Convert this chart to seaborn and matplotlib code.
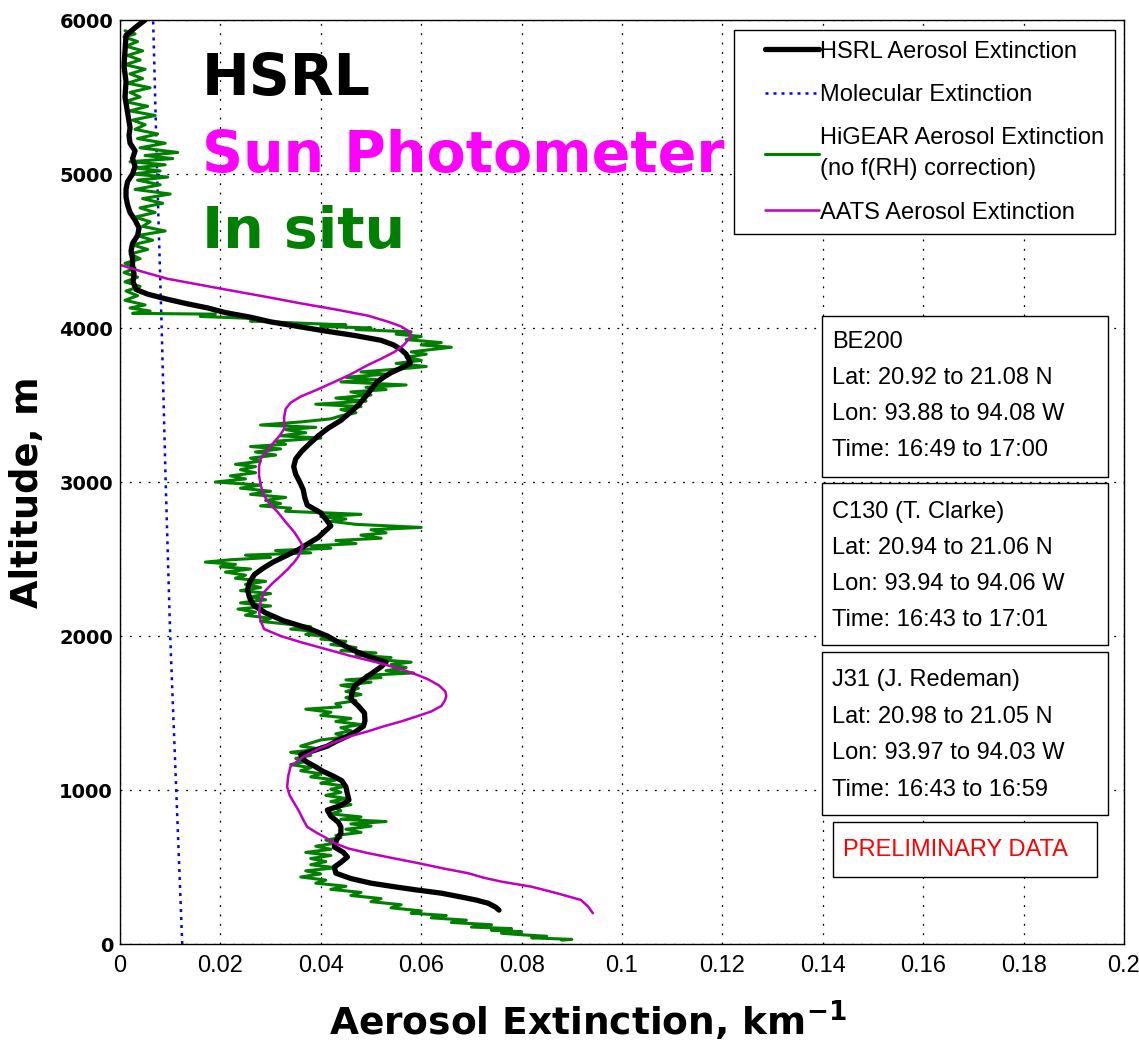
import matplotlib
matplotlib.use("Agg")
import matplotlib.pyplot as plt
import seaborn as sns
from matplotlib.patches import Rectangle
from matplotlib.legend_handler import HandlerLine2D

# ---------------- data ----------------
hsrl_alt = [6000, 5950, 5900, 5800, 5700, 5600, 5500, 5400, 5300, 5250, 5200, 5150, 5100, 5050, 5000,
            4950, 4900, 4850, 4800, 4750, 4700, 4650, 4600, 4550, 4500, 4450, 4400, 4350, 4300, 4250,
            4220, 4190, 4160, 4130, 4100, 4070, 4040, 4010, 3980, 3950, 3920, 3890, 3860, 3830, 3800,
            3770, 3740, 3710, 3680, 3650, 3600, 3550, 3500, 3450, 3400, 3350, 3300, 3250, 3200, 3150,
            3100, 3050, 3000, 2950, 2900, 2850, 2800, 2750, 2715, 2680, 2640, 2600, 2560, 2520, 2480,
            2440, 2400, 2350, 2300, 2250, 2200, 2150, 2100, 2050, 2000, 1950, 1900, 1860, 1830, 1800,
            1765, 1720, 1675, 1630, 1590, 1545, 1500, 1450, 1415, 1380, 1350, 1315, 1285, 1255, 1230,
            1200, 1180, 1150, 1120, 1090, 1060, 1020, 975, 935, 900, 870, 830, 790, 760, 720,
            680, 630, 595, 565, 530, 500, 460, 425, 395, 370, 350, 330, 305, 285, 265, 240, 220]
hsrl_ext = [0.0050, 0.0030, 0.0012, 0.0010, 0.0008, 0.0012, 0.0010, 0.0015, 0.0020, 0.0018, 0.0020, 0.0030, 0.0025, 0.0030, 0.0025,
            0.0015, 0.0012, 0.0012, 0.0015, 0.0020, 0.0030, 0.0038, 0.0035, 0.0025, 0.0022, 0.0025, 0.0025, 0.0028, 0.0026, 0.0032,
            0.0055, 0.0090, 0.0130, 0.0175, 0.0210, 0.0260, 0.0300, 0.0355, 0.0410, 0.0470, 0.0520, 0.0545, 0.0560, 0.0570, 0.0575,
            0.0578, 0.0560, 0.0540, 0.0525, 0.0512, 0.0500, 0.0488, 0.0475, 0.0458, 0.0440, 0.0415, 0.0395, 0.0378, 0.0362, 0.0350,
            0.0346, 0.0350, 0.0358, 0.0365, 0.0368, 0.0373, 0.0400, 0.0412, 0.0420, 0.0408, 0.0395, 0.0375, 0.0355, 0.0330, 0.0305,
            0.0285, 0.0268, 0.0258, 0.0254, 0.0258, 0.0266, 0.0290, 0.0325, 0.0375, 0.0413, 0.0440, 0.0470, 0.0500, 0.0530, 0.0520,
            0.0505, 0.0485, 0.0467, 0.0462, 0.0460, 0.0475, 0.0487, 0.0488, 0.0485, 0.0470, 0.0453, 0.0430, 0.0413, 0.0385, 0.0360,
            0.0365, 0.0373, 0.0390, 0.0405, 0.0425, 0.0442, 0.0450, 0.0453, 0.0456, 0.0440, 0.0413, 0.0420, 0.0435, 0.0440, 0.0440,
            0.0432, 0.0427, 0.0445, 0.0453, 0.0440, 0.0427, 0.0430, 0.0460, 0.0500, 0.0550, 0.0593, 0.0640, 0.0680, 0.0710, 0.0733, 0.0748, 0.0755]

mol_alt = [0, 1000, 2000, 3000, 4000, 5000, 6000]
mol_ext = [0.0124, 0.0112, 0.0100, 0.0091, 0.0083, 0.0074, 0.0066]

higear_alt = [5930, 5910, 5890, 5860, 5830, 5800, 5770, 5740, 5710, 5680, 5650, 5620, 5590, 5560, 5530,
              5500, 5470, 5440, 5410, 5380, 5350, 5320, 5290, 5260, 5230, 5200, 5170, 5140, 5120, 5100,
              5080, 5060, 5040, 5020, 5000, 4980, 4960, 4930, 4900, 4870, 4840, 4810, 4780, 4750, 4720,
              4690, 4660, 4630, 4600, 4570, 4540, 4510, 4480, 4450, 4420, 4390, 4360, 4330, 4300, 4270,
              4240, 4210, 4180, 4150, 4130, 4110, 4095, 4090, 4075, 4060, 4045, 4030, 4020, 4010, 4000,
              3990, 3975, 3960, 3945, 3925, 3905, 3890, 3875, 3860, 3845, 3830, 3810, 3790, 3770, 3750,
              3735, 3715, 3700, 3680, 3665, 3650, 3630, 3615, 3600, 3585, 3565, 3545, 3525, 3505, 3490,
              3470, 3450, 3430, 3410, 3390, 3370, 3355, 3340, 3320, 3300, 3285, 3265, 3245, 3230, 3215,
              3195, 3175, 3155, 3135, 3115, 3100, 3080, 3060, 3040, 3020, 3000, 2980, 2960, 2940, 2920,
              2900, 2880, 2860, 2845, 2830, 2810, 2790, 2775, 2760, 2745, 2725, 2705, 2690, 2670, 2655,
              2635, 2620, 2600, 2585, 2570, 2555, 2540, 2525, 2510, 2495, 2480, 2465, 2450, 2435, 2415,
              2395, 2375, 2355, 2335, 2315, 2295, 2275, 2255, 2235, 2215, 2195, 2175, 2155, 2135, 2115,
              2095, 2075, 2060, 2045, 2030, 2010, 1995, 1980, 1965, 1945, 1925, 1905, 1890, 1875, 1860,
              1845, 1830, 1815, 1795, 1775, 1760, 1745, 1730, 1715, 1700, 1680, 1660, 1640, 1620, 1600,
              1580, 1560, 1540, 1525, 1505, 1485, 1465, 1445, 1425, 1405, 1385, 1365, 1345, 1325, 1305,
              1285, 1265, 1245, 1225, 1205, 1185, 1165, 1145, 1125, 1105, 1085, 1065, 1045, 1025, 1005,
              985, 965, 945, 925, 905, 885, 865, 845, 825, 810, 795, 780, 765, 745, 725,
              705, 690, 675, 655, 635, 615, 595, 575, 555, 535, 515, 495, 475, 455, 435,
              415, 395, 375, 355, 335, 315, 295, 275, 255, 235, 215, 200, 185, 170, 155,
              140, 125, 110, 100, 90, 80, 70, 60, 50, 40, 30, 25]
higear_ext = [0.0010, 0.0030, 0.0008, 0.0035, 0.0012, 0.0045, 0.0015, 0.0040, 0.0010, 0.0050, 0.0020, 0.0045, 0.0015, 0.0060, 0.0020,
              0.0040, 0.0010, 0.0055, 0.0020, 0.0070, 0.0025, 0.0050, 0.0030, 0.0075, 0.0035, 0.0090, 0.0040, 0.0115, 0.0050, 0.0105,
              0.0020, 0.0090, 0.0030, 0.0080, 0.0025, 0.0095, 0.0035, 0.0080, 0.0030, 0.0100, 0.0045, 0.0085, 0.0040, 0.0070, 0.0030,
              0.0060, 0.0045, 0.0090, 0.0035, 0.0065, 0.0025, 0.0055, 0.0020, 0.0040, 0.0010, 0.0030, 0.0008, 0.0035, 0.0010, 0.0040,
              0.0012, 0.0035, 0.0010, 0.0050, 0.0020, 0.0060, 0.0025, 0.0190, 0.0160, 0.0280, 0.0260, 0.0370, 0.0450, 0.0400, 0.0500,
              0.0470, 0.0580, 0.0550, 0.0600, 0.0570, 0.0640, 0.0600, 0.0660, 0.0620, 0.0580, 0.0610, 0.0570, 0.0600, 0.0550, 0.0610,
              0.0560, 0.0480, 0.0530, 0.0450, 0.0510, 0.0440, 0.0570, 0.0490, 0.0530, 0.0460, 0.0500, 0.0430, 0.0490, 0.0390, 0.0480,
              0.0440, 0.0470, 0.0440, 0.0420, 0.0360, 0.0280, 0.0390, 0.0330, 0.0370, 0.0320, 0.0400, 0.0310, 0.0330, 0.0260, 0.0320,
              0.0270, 0.0310, 0.0260, 0.0280, 0.0230, 0.0270, 0.0240, 0.0270, 0.0220, 0.0250, 0.0190, 0.0280, 0.0240, 0.0300, 0.0260,
              0.0330, 0.0290, 0.0320, 0.0280, 0.0340, 0.0330, 0.0480, 0.0400, 0.0450, 0.0420, 0.0470, 0.0600, 0.0500, 0.0530, 0.0480,
              0.0520, 0.0430, 0.0470, 0.0380, 0.0420, 0.0310, 0.0380, 0.0250, 0.0300, 0.0220, 0.0170, 0.0230, 0.0200, 0.0260, 0.0210,
              0.0250, 0.0230, 0.0290, 0.0250, 0.0280, 0.0240, 0.0300, 0.0260, 0.0290, 0.0240, 0.0300, 0.0235, 0.0270, 0.0250, 0.0300,
              0.0280, 0.0340, 0.0380, 0.0340, 0.0390, 0.0370, 0.0420, 0.0400, 0.0450, 0.0420, 0.0470, 0.0440, 0.0510, 0.0470, 0.0540,
              0.0520, 0.0580, 0.0540, 0.0570, 0.0530, 0.0585, 0.0490, 0.0520, 0.0450, 0.0500, 0.0440, 0.0475, 0.0450, 0.0480, 0.0450,
              0.0470, 0.0430, 0.0440, 0.0370, 0.0420, 0.0400, 0.0460, 0.0430, 0.0480, 0.0440, 0.0460, 0.0430, 0.0450, 0.0400, 0.0380,
              0.0360, 0.0400, 0.0340, 0.0380, 0.0350, 0.0370, 0.0340, 0.0380, 0.0360, 0.0400, 0.0380, 0.0430, 0.0400, 0.0450, 0.0420,
              0.0440, 0.0410, 0.0450, 0.0420, 0.0460, 0.0430, 0.0440, 0.0420, 0.0480, 0.0440, 0.0530, 0.0460, 0.0500, 0.0450, 0.0480,
              0.0430, 0.0440, 0.0410, 0.0430, 0.0390, 0.0420, 0.0370, 0.0420, 0.0380, 0.0410, 0.0380, 0.0430, 0.0370, 0.0400, 0.0360,
              0.0410, 0.0390, 0.0450, 0.0420, 0.0480, 0.0460, 0.0520, 0.0500, 0.0560, 0.0540, 0.0600, 0.0580, 0.0650, 0.0620, 0.0690,
              0.0660, 0.0740, 0.0700, 0.0780, 0.0740, 0.0800, 0.0760, 0.0800, 0.0850, 0.0820, 0.0900, 0.0880]

aats_alt = [4410, 4370, 4320, 4280, 4240, 4200, 4160, 4120, 4080, 4040, 4010, 3980, 3955, 3930, 3890,
            3845, 3800, 3760, 3700, 3650, 3600, 3555, 3515, 3475, 3420, 3345, 3300, 3260, 3200, 3150,
            3100, 3040, 2970, 2910, 2860, 2805, 2740, 2675, 2620, 2585, 2550, 2515, 2480, 2430, 2390,
            2340, 2285, 2220, 2155, 2100, 2045, 2000, 1960, 1915, 1870, 1830, 1785, 1750, 1720, 1680,
            1640, 1610, 1580, 1545, 1510, 1480, 1445, 1415, 1380, 1350, 1310, 1265, 1215, 1155, 1090,
            1020, 965, 915, 860, 800, 760, 720, 690, 655, 620, 590, 560, 525, 490, 460,
            430, 405, 372, 330, 286, 245, 200]
aats_ext = [0.0000, 0.0040, 0.0094, 0.0160, 0.0227, 0.0295, 0.0360, 0.0430, 0.0494, 0.0535, 0.0560, 0.0575, 0.0580, 0.0576, 0.0565,
            0.0547, 0.0520, 0.0494, 0.0460, 0.0427, 0.0393, 0.0360, 0.0340, 0.0330, 0.0327, 0.0327, 0.0318, 0.0307, 0.0292, 0.0280,
            0.0277, 0.0277, 0.0281, 0.0287, 0.0298, 0.0314, 0.0330, 0.0347, 0.0358, 0.0364, 0.0360, 0.0355, 0.0347, 0.0333, 0.0320,
            0.0303, 0.0287, 0.0280, 0.0277, 0.0280, 0.0287, 0.0320, 0.0360, 0.0410, 0.0460, 0.0510, 0.0560, 0.0590, 0.0613, 0.0635,
            0.0648, 0.0650, 0.0647, 0.0640, 0.0620, 0.0593, 0.0560, 0.0527, 0.0493, 0.0460, 0.0427, 0.0394, 0.0365, 0.0340, 0.0335,
            0.0333, 0.0338, 0.0347, 0.0357, 0.0366, 0.0373, 0.0393, 0.0410, 0.0427, 0.0455, 0.0494, 0.0540, 0.0594, 0.0645, 0.0693,
            0.0725, 0.0760, 0.0820, 0.0870, 0.0918, 0.0932, 0.0942]

legend_labels = ["HSRL Aerosol Extinction", "Molecular Extinction",
                 "HiGEAR Aerosol Extinction\n(no f(RH) correction)", "AATS Aerosol Extinction"]
x_ticks = [0, 0.02, 0.04, 0.06, 0.08, 0.1, 0.12, 0.14, 0.16, 0.18, 0.2]
x_tick_labels = ["0", "0.02", "0.04", "0.06", "0.08", "0.1", "0.12", "0.14", "0.16", "0.18", "0.2"]
y_ticks = [0, 1000, 2000, 3000, 4000, 5000, 6000]
y_tick_labels = ["0", "1000", "2000", "3000", "4000", "5000", "6000"]
big_titles = ["HSRL", "Sun Photometer", "In situ"]
big_colors = ["#000000", "#FF00FF", "#008000"]
info_boxes = [
    ["BE200", "Lat: 20.92 to 21.08 N", "Lon: 93.88 to 94.08 W", "Time: 16:49 to 17:00"],
    ["C130 (T. Clarke)", "Lat: 20.94 to 21.06 N", "Lon: 93.94 to 94.06 W", "Time: 16:43 to 17:01"],
    ["J31 (J. Redeman)", "Lat: 20.98 to 21.05 N", "Lon: 93.97 to 94.03 W", "Time: 16:43 to 16:59"],
]
prelim_text = "PRELIMINARY DATA"

# ---------------- style ----------------
sns.set_style("white")
plt.rcParams["font.family"] = ["Liberation Sans", "DejaVu Sans"]
plt.rcParams["text.color"] = "black"
plt.rcParams["axes.labelcolor"] = "black"
plt.rcParams["xtick.color"] = "black"
plt.rcParams["ytick.color"] = "black"
plt.rcParams["mathtext.fontset"] = "custom"
plt.rcParams["mathtext.bf"] = "DejaVu Sans:bold"
plt.rcParams["mathtext.rm"] = "DejaVu Sans"

W, H = 1139, 1048
fig = plt.figure(figsize=(W / 100, H / 100), dpi=100)
fig.patch.set_facecolor("white")
AX_L, AX_R, AX_T, AX_B = 120, 1124, 20, 944
ax = fig.add_axes([AX_L / W, 1 - AX_B / H, (AX_R - AX_L) / W, (AX_B - AX_T) / H])


def axx(px):
    return (px - AX_L) / (AX_R - AX_L)


def axy(py):
    return (AX_B - py) / (AX_B - AX_T)


# ---------------- lines ----------------
sns.lineplot(x=mol_ext, y=mol_alt, sort=False, estimator=None, color="#0000FF", lw=1.8, ax=ax)
mol_line = ax.lines[-1]
mol_line.set_linestyle((0, (1.2, 2.0)))
sns.lineplot(x=higear_ext, y=higear_alt, sort=False, estimator=None, color="#007F00", lw=2.2, ax=ax)
hig_line = ax.lines[-1]
sns.lineplot(x=hsrl_ext, y=hsrl_alt, sort=False, estimator=None, color="black", lw=3.8, ax=ax)
hsrl_line = ax.lines[-1]
sns.lineplot(x=aats_ext, y=aats_alt, sort=False, estimator=None, color="#C000C0", lw=1.8, ax=ax)
aats_line = ax.lines[-1]

ax.set_xlim(0, 0.2)
ax.set_ylim(0, 6000)
ax.set_xticks(x_ticks)
ax.set_xticklabels(x_tick_labels, fontfamily="Liberation Sans", fontsize=17)
ax.set_yticks(y_ticks)
ax.set_yticklabels(y_tick_labels, fontfamily="DejaVu Sans", fontweight="bold", fontsize=14)
ax.tick_params(axis="x", direction="in", length=11, width=1, pad=8, colors="black")
ax.tick_params(axis="y", direction="in", length=7.5, width=1, pad=5, colors="black")
ax.grid(True, linestyle=(0, (1.5, 6)), color="black", linewidth=0.9)
for s in ax.spines.values():
    s.set_color("black")
    s.set_linewidth(1.0)
    s.set_visible(True)

ax.set_xlabel(r"Aerosol Extinction, km$^{\mathbf{-1}}$", fontfamily="DejaVu Sans",
              fontweight="bold", fontsize=27, color="black")
ax.xaxis.set_label_coords(axx(588), axy(998))
ax.set_ylabel("Altitude, m", fontfamily="DejaVu Sans", fontweight="bold", fontsize=26.5, color="black")
ax.yaxis.set_label_coords(axx(46), axy(492))

# ---------------- big overlay titles ----------------
for txt, col, py in zip(big_titles, big_colors, [95, 172, 248]):
    ax.text(axx(202), axy(py), txt, transform=ax.transAxes, color=col, fontsize=41,
            fontweight="bold", fontfamily="DejaVu Sans", va="baseline", ha="left", zorder=6)

# ---------------- legend ----------------
handler = HandlerLine2D(xpad=0.86)
leg = ax.legend([hsrl_line, mol_line, hig_line, aats_line], legend_labels,
                loc="upper right", bbox_to_anchor=(axx(1115), axy(30)), bbox_transform=ax.transAxes,
                borderaxespad=0, fontsize=17, frameon=True, fancybox=False, framealpha=1,
                edgecolor="black", handlelength=3.15, handletextpad=0.05, labelspacing=0.9,
                borderpad=0.45,
                handler_map={hsrl_line: handler, mol_line: handler, hig_line: handler, aats_line: handler})
leg.get_frame().set_linewidth(1.0)
leg.set_zorder(10)
for t in leg.get_texts():
    t.set_color("black")
    t.set_linespacing(1.55)

# ---------------- info boxes ----------------
box_tops = [316, 483, 652]
box_bots = [477, 645, 815]
line_pys = [[342, 378, 414, 450], [512, 548, 584, 620], [680, 717, 753, 790]]
for lines, top, bot, pys in zip(info_boxes, box_tops, box_bots, line_pys):
    ax.add_patch(Rectangle((axx(822), axy(bot)), axx(1108) - axx(822), axy(top) - axy(bot),
                           transform=ax.transAxes, facecolor="white", edgecolor="black",
                           linewidth=1.0, zorder=8))
    for t, py in zip(lines, pys):
        ax.text(axx(832), axy(py), t, transform=ax.transAxes, fontsize=17,
                fontfamily="Liberation Sans", va="center", ha="left", color="black", zorder=9)

ax.add_patch(Rectangle((axx(833), axy(877)), axx(1097) - axx(833), axy(822) - axy(877),
                       transform=ax.transAxes, facecolor="white", edgecolor="black",
                       linewidth=1.0, zorder=8))
ax.text(axx(843), axy(850), prelim_text, transform=ax.transAxes, fontsize=17,
        fontfamily="Liberation Sans", va="center", ha="left", color="#FF0000", zorder=9)

fig.savefig("out.png", dpi=100, facecolor="white")
